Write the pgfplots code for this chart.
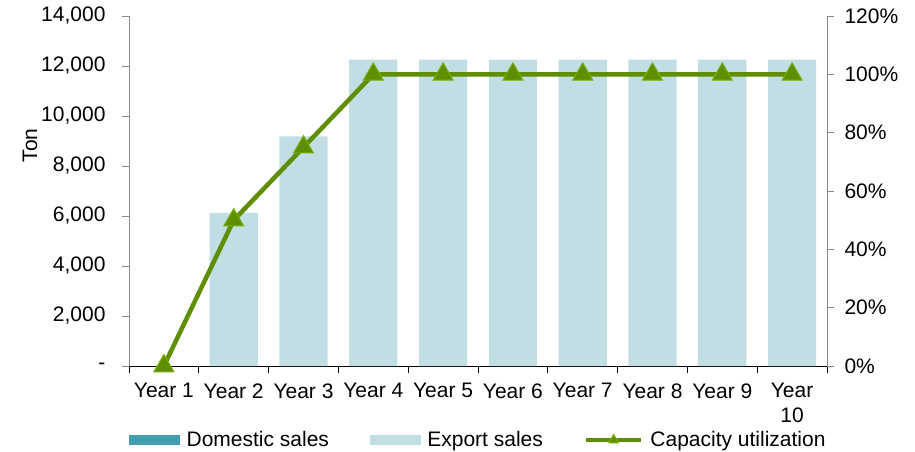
\documentclass[border=0pt]{standalone}
\usepackage{pgfplots}
\pgfplotsset{compat=1.18}
\usepackage{fontspec}
\setmainfont{Liberation Sans}
\definecolor{domc}{HTML}{449DAE}
\definecolor{expc}{HTML}{C0DEE3}
\definecolor{capgreen}{HTML}{5F8E00}
\definecolor{capedge}{HTML}{78B000}
\definecolor{axgray}{HTML}{898989}
\newcommand{\fs}{\fontsize{21}{25}\selectfont}
\pgfplotsset{/pgf/number format/assume math mode=true}
\begin{document}
\begin{tikzpicture}
\begin{axis}[
 scale only axis, width=698pt, height=350pt,
 xmin=0.5, xmax=10.5, ymin=0, ymax=14000,
 scaled y ticks=false,
 ybar stacked, bar width=0.69,
 axis x line*=bottom, axis y line*=left,
 x axis line style={black, line width=0.8pt, -},
 y axis line style={axgray, line width=0.8pt, -},
 tick align=outside,
 xtick={1,...,10},
 xticklabels={Year 1,Year 2,Year 3,Year 4,Year 5,Year 6,Year 7,Year 8,Year 9,{Year\\10}},
 xticklabel style={align=center, font=\fs, yshift=-7pt},
 major x tick style={draw=none},
 minor xtick={0.5,1.5,2.5,3.5,4.5,5.5,6.5,7.5,8.5,9.5,10.5},
 minor x tick style={black, line width=0.8pt},
 minor tick length=7pt, major tick length=7pt,
 ytick={0,2000,4000,6000,8000,10000,12000,14000},
 yticklabels={-,{2,000},{4,000},{6,000},{8,000},{10,000},{12,000},{14,000}},
 yticklabel style={font=\fs, xshift=-13pt},
 y tick style={axgray, line width=0.8pt},
 ylabel=Ton,
 ylabel style={at={(axis description cs:-0.142,0.63)}, anchor=center, font=\fs},
]
\addplot[fill=domc, draw=none] coordinates {(1,0) (2,0) (3,0) (4,0) (5,0) (6,0) (7,0) (8,0) (9,0) (10,0)};
\addplot[fill=expc, draw=none] coordinates {(1,0) (2,6125) (3,9187.5) (4,12250) (5,12250) (6,12250) (7,12250) (8,12250) (9,12250) (10,12250)};
\end{axis}
\begin{axis}[
 scale only axis, width=698pt, height=350pt,
 xmin=0.5, xmax=10.5, ymin=0, ymax=120,
 axis y line*=right, axis x line=none, clip=false,
 y axis line style={axgray, line width=0.8pt, -},
 tick align=outside, major tick length=7pt,
 y tick style={axgray, line width=0.8pt},
 ytick={0,20,40,60,80,100,120},
 yticklabel={\pgfmathprintnumber{\tick}\%},
 yticklabel style={font=\fs, xshift=7pt},
 legend columns=3,
 legend style={draw=none, fill=none, font=\fs,
   at={(axis description cs:0,0)}, anchor=west, yshift=-74pt,
   inner sep=0pt, nodes={inner sep=0pt},
   /tikz/every odd column/.append style={column sep=7pt},
   /tikz/every even column/.append style={column sep=41pt}},
]
\addlegendimage{legend image code/.code={\fill[domc] (0pt,-4.5pt) rectangle (50pt,4.5pt);}}
\addlegendentry{Domestic sales}
\addlegendimage{legend image code/.code={\fill[expc] (0pt,-4.5pt) rectangle (50pt,4.5pt);}}
\addlegendentry{Export sales}
\addplot[capgreen, line width=4.5pt, mark=triangle*, mark size=11.5pt,
  mark options={fill=capgreen, draw=capedge, line width=1pt},
  legend image code/.code={\draw[capgreen, line width=4.5pt] (0pt,0pt)--(55pt,0pt);
    \draw[fill=capgreen, draw=capedge, line width=0.8pt] plot[mark=triangle*, mark size=5.5pt] coordinates {(27.5pt,0pt)};}]
 coordinates {(1,0) (2,50) (3,75) (4,100) (5,100) (6,100) (7,100) (8,100) (9,100) (10,100)};
\addlegendentry{Capacity utilization}
\end{axis}
\pgfresetboundingbox
\path (-129pt,-86pt) rectangle (786pt,366pt);
\end{tikzpicture}
\end{document}
